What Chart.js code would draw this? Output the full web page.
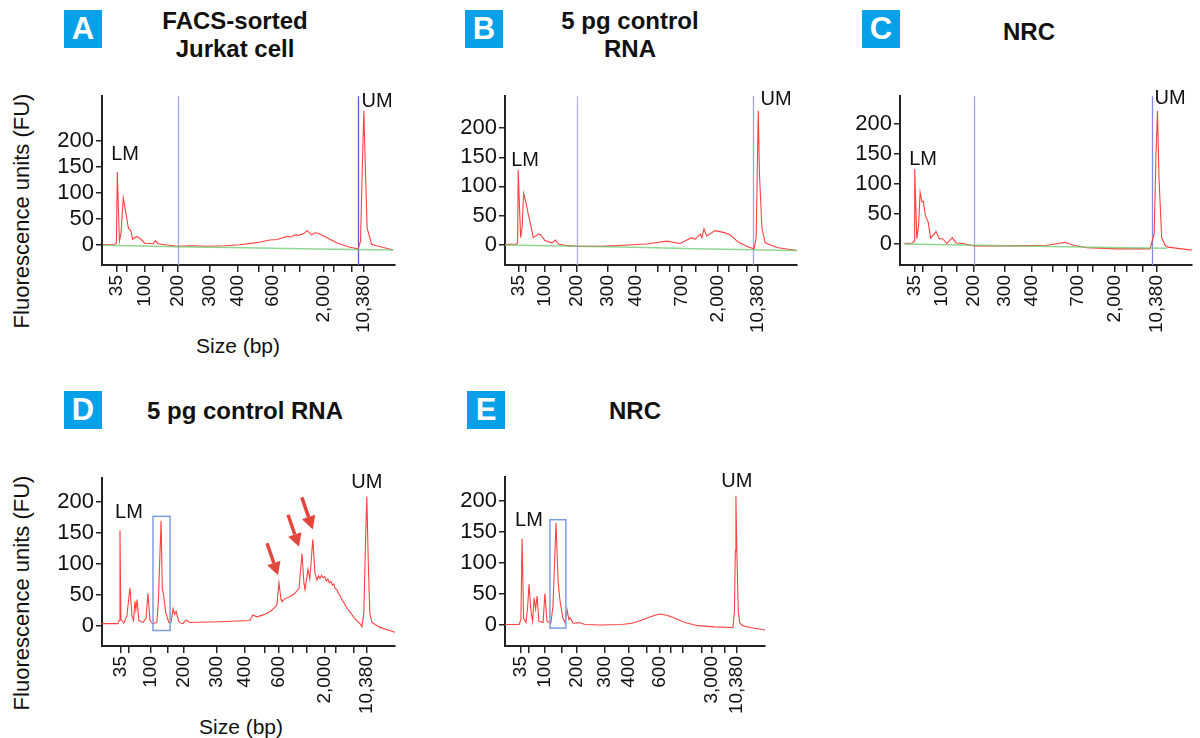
<!DOCTYPE html>
<html>
<head>
<meta charset="utf-8">
<script src="https://cdn.jsdelivr.net/npm/chart.js@4.4.1/dist/chart.umd.min.js"></script>
<style>
  body { margin: 0; width: 1200px; height: 738px; background: #fff; position: relative; overflow: hidden;
         font-family: 'Liberation Sans', Arial, sans-serif; color: #111; }
  .tag { position: absolute; width: 38px; height: 38px; background: #08a0e8; color: #fff; font-weight: bold;
         font-size: 31px; line-height: 38px; text-align: center; }
  .ttl { position: absolute; width: 300px; text-align: center; font-weight: bold; font-size: 24px; line-height: 28px; }
  .ylab { position: absolute; font-size: 22px; white-space: nowrap; transform: translate(-50%, -50%) rotate(-90deg); }
  .xlab { position: absolute; font-size: 21px; white-space: nowrap; transform: translate(-50%, -50%); }
  canvas { position: absolute; }
</style>
</head>
<body>
<div class="tag" style="left:64px;top:10px">A</div>
<div class="tag" style="left:465px;top:10px">B</div>
<div class="tag" style="left:862px;top:10px">C</div>
<div class="tag" style="left:64px;top:391px">D</div>
<div class="tag" style="left:467px;top:391px">E</div>

<div class="ttl" style="left:85px;top:7px">FACS-sorted<br>Jurkat cell</div>
<div class="ttl" style="left:480px;top:7px">5 pg control<br>RNA</div>
<div class="ttl" style="left:879px;top:18px">NRC</div>
<div class="ttl" style="left:95px;top:397px">5 pg control RNA</div>
<div class="ttl" style="left:485px;top:397px">NRC</div>

<div class="ylab" style="left:22px;top:211px">Fluorescence units (FU)</div>
<div class="ylab" style="left:22px;top:593px">Fluorescence units (FU)</div>
<div class="xlab" style="left:238px;top:346px">Size (bp)</div>
<div class="xlab" style="left:241px;top:727px">Size (bp)</div>

<canvas id="chartA"></canvas>
<canvas id="chartB"></canvas>
<canvas id="chartC"></canvas>
<canvas id="chartD"></canvas>
<canvas id="chartE"></canvas>

<script>
// Migration time (s, relative to axis start) and fluorescence (FU)
const timeA = [0.3,4.3,4.8,5.1,5.8,6.3,7.1,8.0,8.8,9.6,
  10.2,11.6,12.7,14.3,17.1,17.8,18.8,21.0,25.1,30,
  34.9,41,46,51.6,56,58.5,60.4,62,63,64.3,
  65.5,67.1,68.4,69.9,71,72.1,73.5,74.9,78.2,82.7,
  85.4,86.2,86.8,87.3,87.8,88.4,89.9,91.6,97.1];
const fuA = [0,1,3,140,7,20,90,60,32,27,
  11,16,12,3,2,8,2,0,-3,-2,
  -3,-2,0,4,9,10,14,16,15,19,
  18,21,27,19,23,22,18,14,4,-5,
  -8,7,150,258,150,32,1,-2,-10];
const baseTimeA = [0.3, 25, 48, 71, 97.1];
const baseFuA = [-1, -3.7, -5.6, -8, -10];

const timeB = [0,3.7,4.2,4.4,5.2,5.7,6.2,7.0,7.8,8.6,9.4,11.1,11.9,13.3,15.6,16.8,17.8,20,23.9,31.7,
  39.4,47.2,53.9,58.3,62.2,63.3,65,65.6,66.3,67.2,70,72.8,75,77.8,81.1,83,83.7,84.1,84.4,84.8,85.6,86.7,90.6,97.2];
const fuB = [0,1,3,128,12,30,88,72,51,33,12,18,17,7,3,8,1,-1,-3,-3,
  -1,1,6,2,12,9,18,12,27,15,24,21,17,4,-4,-7,12,140,230,120,29,3,-5,-10];
const baseTimeB = [0, 24, 47, 63, 97.2];
const baseFuB = [-0.5, -3, -5, -7, -10];

const timeC = [1.5,4.2,4.7,4.9,5.6,6.2,6.7,7.3,7.8,8.4,9.4,10.2,12,13.1,14.2,15.6,17.4,18.7,21.1,24.6,
  38.9,48.9,52.7,55,57.8,62.2,72.2,83.3,84.7,85.3,85.8,86.3,87.2,88.3,89.3,97.2];
const fuC = [0,1,4,125,8,30,86,70,71,48,36,9,20,8,8,0,10,1,0,-4,
  -4,-3,0,2,-3,-7,-9,-9,16,150,222,110,10,-3,-6,-11];
const baseTimeC = [1.5, 25, 50, 75, 89];
const baseFuC = [-1, -3, -5, -7, -8];

const timeD = [0,5.3,5.7,6.0,6.3,7.3,8.3,9.3,10,10.5,
  11,11.3,11.7,12.3,13.7,14.7,15.3,16,17,18.3,
  18.8,19.7,20.1,20.5,21.3,22.3,23,23.7,24.2,24.7,
  25.7,27,28,29.3,39.3,49.3,50.3,51.7,53,54.3,
  55.5,56.7,57.5,58.3,59,59.7,60,61,62,63.2,
  64.3,65.7,66.7,67.3,67.7,68.7,69.3,70.3,71,71.7,
  72.2,72.7,73.2,73.7,74.3,74.8,75.3,75.8,76.3,76.8,
  77.3,77.7,78.3,78.8,79.3,80,81,81.8,82.7,84.3,
  86,86.7,87.3,87.8,88.3,88.8,89.3,90,92.7,97.7];
const fuD = [3,3,8,153,10,4,15,61,15,8,
  39,25,42,8,5,12,52,8,3,5,
  40,169,60,50,20,5,5,27,18,23,
  5,3,9,5,6,8,17,14,16,18,
  21,25,29,33,69,42,39,43,45,48,
  52,60,116,70,58,91,75,139,85,73,
  80,76,81,77,79,72,75,69,71,65,
  67,60,58,52,49,42,34,27,22,11,
  3,-2,20,120,208,100,20,5,-3,-11];

const timeE = [0,4.7,5.3,5.7,6.2,7,7.5,8,8.7,9.2,9.7,10.2,10.7,11.3,12.7,13.3,14,15.3,16,17,
  17.7,18.3,19.3,20,20.7,21.3,21.7,22.7,24.7,26.7,31.7,39,42.3,45,47.7,50,51.7,54,56.7,60,
  64.3,70,76,76.5,76.8,77,77.3,77.8,78.3,79.3,81.7,86.7];
const fuE = [0,0,8,139,10,3,25,65,20,5,43,25,46,5,3,50,5,2,30,165,
  70,40,10,3,24,8,11,2,3,0,-1,0,2,6,11,15,17,15,10,3,
  -2,-4,-5,20,120,209,120,20,2,-2,-5,-9];

// Size-standard ticks (time position) and their bp labels
const yTicks = [0, 50, 100, 150, 200];
const ticksA = [5.0,8.3,14.3,20.2,25.3,36.0,45.2,52.2,56.8,61.0,65.8,73.8,77.3,83.2,87.3];
const labelsA = ['35','','100','','200','300','400','','600','','','2,000','','','10,380'];
const ticksB = [4.7,7.0,13.3,18.7,24.0,34.3,43.7,51.0,55.0,59.0,63.7,71.0,74.7,80.7,84.3];
const labelsB = ['35','','100','','200','300','400','','','700','','2,000','','','10,380'];
const ticksC = [5.0,7.7,14.0,19.0,24.7,35.0,44.0,51.0,55.7,59.3,64.3,71.7,75.7,81.0,85.7];
const labelsC = ['35','','100','','200','300','400','','','700','','2,000','','','10,380'];
const ticksD = [6.3,9.0,16.3,22.0,27.3,38.3,47.7,54.3,59.0,63.7,68.3,74.3,78.0,84.0,88.3];
const labelsD = ['35','','100','','200','300','400','','600','','','2,000','','','10,380'];
const ticksE = [5.3,8.0,13.3,19.0,24.0,33.3,41.3,47.3,51.7,55.3,59.3,65.7,69.0,73.3,77.3];
const labelsE = ['35','','100','','200','300','400','','600','','','','3,000','','10,380'];

// Alignment markers (200 bp / upper marker), annotations
const markersA = [25.3, 85.5];
const markersB = [24.0, 82.7];
const markersC = [24.7, 84.0];
const boxD = { x0: 17, x1: 22.7, y0: -8, y1: 176 };
const boxE = { x0: 15, x1: 20.3, y0: -6, y1: 170 };
const arrowTipsD = [{ x: 58.7, y: 81 }, { x: 65.7, y: 127 }, { x: 70.3, y: 155 }];

Chart.defaults.font.family = "'Liberation Sans', Arial, sans-serif";
Chart.defaults.color = '#111';

function pairs(xs, ys) { return xs.map((t, i) => ({ x: t, y: ys[i] })); }

function marks(cfg) {
  return {
    id: 'marks',
    beforeDatasetsDraw(chart) {
      const { ctx, chartArea: a, scales: { x } } = chart;
      (cfg.lines || []).forEach((v, i) => {
        const px = Math.round(x.getPixelForValue(v)) + 0.5;
        ctx.save();
        ctx.strokeStyle = cfg.lineColors[i];
        ctx.lineWidth = 1.3;
        ctx.beginPath(); ctx.moveTo(px, a.top); ctx.lineTo(px, a.bottom); ctx.stroke();
        ctx.restore();
      });
    },
    afterDatasetsDraw(chart) {
      const { ctx, scales: { x, y } } = chart;
      ctx.save();
      if (cfg.box) {
        const b = cfg.box;
        const x0 = x.getPixelForValue(b.x0), x1 = x.getPixelForValue(b.x1);
        const y0 = y.getPixelForValue(b.y0), y1 = y.getPixelForValue(b.y1);
        ctx.strokeStyle = '#7c9ee0';
        ctx.lineWidth = 1.5;
        ctx.strokeRect(x0, y1, x1 - x0, y0 - y1);
      }
      (cfg.arrows || []).forEach(p => {
        const tx = x.getPixelForValue(p.x), ty = y.getPixelForValue(p.y);
        const sx = tx - 11, sy = ty - 32;
        const len = Math.hypot(tx - sx, ty - sy), ux = (tx - sx) / len, uy = (ty - sy) / len;
        const bx = tx - ux * 13, by = ty - uy * 13;
        ctx.strokeStyle = '#e2473d'; ctx.fillStyle = '#e2473d'; ctx.lineWidth = 3.5;
        ctx.beginPath(); ctx.moveTo(sx, sy); ctx.lineTo(bx, by); ctx.stroke();
        ctx.beginPath();
        ctx.moveTo(tx, ty);
        ctx.lineTo(bx - uy * 7, by + ux * 7);
        ctx.lineTo(bx + uy * 7, by - ux * 7);
        ctx.closePath(); ctx.fill();
      });
      ctx.fillStyle = '#111';
      ctx.font = "20px 'Liberation Sans', Arial, sans-serif";
      ctx.textAlign = 'center';
      ctx.textBaseline = 'middle';
      (cfg.labels || []).forEach(l => ctx.fillText(l.text, x.getPixelForValue(l.x), y.getPixelForValue(l.y)));
      ctx.restore();
    }
  };
}

function makePanel(id, g, trace, base, xTicks, xLabels, cfg) {
  const cv = document.getElementById(id);
  cv.width = g.right - g.axisX + 90;
  cv.height = g.bottom - g.top + 110;
  cv.style.left = (g.axisX - 60) + 'px';
  cv.style.top = (g.top - 10) + 'px';
  const datasets = [];
  if (base) datasets.push({ data: base, borderColor: 'rgba(110,200,110,0.75)', borderWidth: 1.5, pointRadius: 0 });
  datasets.push({ data: trace, borderColor: '#ff4040', borderWidth: 1.1, pointRadius: 0 });
  return new Chart(cv, {
    type: 'line',
    data: { datasets },
    options: {
      responsive: false,
      animation: false,
      layout: { padding: { left: 0, top: 10, right: 30, bottom: 0 } },
      plugins: { legend: { display: false }, tooltip: { enabled: false } },
      scales: {
        x: {
          type: 'linear', min: 0, max: g.xmax,
          afterBuildTicks: s => { s.ticks = xTicks.map(v => ({ value: v })); },
          afterFit: s => { s.height = 100; },
          ticks: { autoSkip: false, minRotation: 90, maxRotation: 90, padding: 3,
                   font: { size: 19 }, callback: (v, i) => xLabels[i] },
          grid: { drawOnChartArea: false, drawTicks: true, tickLength: 7, color: '#222', lineWidth: 1.5 },
          border: { display: true, color: '#222', width: 2 }
        },
        y: {
          min: g.ymin, max: g.ymax,
          afterBuildTicks: s => { s.ticks = yTicks.map(v => ({ value: v })); },
          afterFit: s => { s.width = 60; },
          ticks: { padding: 2, font: { size: 22 } },
          grid: { drawOnChartArea: false, drawTicks: true, tickLength: 6, color: '#222', lineWidth: 1.5 },
          border: { display: true, color: '#222', width: 2 }
        }
      }
    },
    plugins: [marks(cfg)]
  });
}

makePanel('chartA', { axisX: 102, top: 91, bottom: 265, right: 395, xmax: 97.7, ymin: -39, ymax: 286 },
  pairs(timeA, fuA), pairs(baseTimeA, baseFuA), ticksA, labelsA,
  { lines: markersA, lineColors: ['#a4a4ee', '#5c5cd8'],
    labels: [{ text: 'LM', x: 7.7, y: 174 }, { text: 'UM', x: 91.7, y: 275 }] });

makePanel('chartB', { axisX: 505, top: 91, bottom: 265, right: 797, xmax: 97.3, ymin: -35, ymax: 255 },
  pairs(timeB, fuB), pairs(baseTimeB, baseFuB), ticksB, labelsB,
  { lines: markersB, lineColors: ['#b0b0f0', '#a0a0ea'],
    labels: [{ text: 'LM', x: 6.7, y: 145 }, { text: 'UM', x: 90.3, y: 250 }] });

makePanel('chartC', { axisX: 900, top: 91, bottom: 265, right: 1192, xmax: 97.3, ymin: -36, ymax: 247 },
  pairs(timeC, fuC), pairs(baseTimeC, baseFuC), ticksC, labelsC,
  { lines: markersC, lineColors: ['#a4a4ee', '#8888e4'],
    labels: [{ text: 'LM', x: 7.7, y: 141 }, { text: 'UM', x: 90, y: 243 }] });

makePanel('chartD', { axisX: 102, top: 473, bottom: 646, right: 395, xmax: 97.7, ymin: -33, ymax: 237.5 },
  pairs(timeD, fuD), null, ticksD, labelsD,
  { box: boxD, arrows: arrowTipsD,
    labels: [{ text: 'LM', x: 9, y: 183 }, { text: 'UM', x: 88.3, y: 231 }] });

makePanel('chartE', { axisX: 505, top: 472, bottom: 646, right: 765, xmax: 86.7, ymin: -35, ymax: 239 },
  pairs(timeE, fuE), null, ticksE, labelsE,
  { box: boxE,
    labels: [{ text: 'LM', x: 8, y: 168.5 }, { text: 'UM', x: 77.3, y: 231.5 }] });
</script>
</body>
</html>
